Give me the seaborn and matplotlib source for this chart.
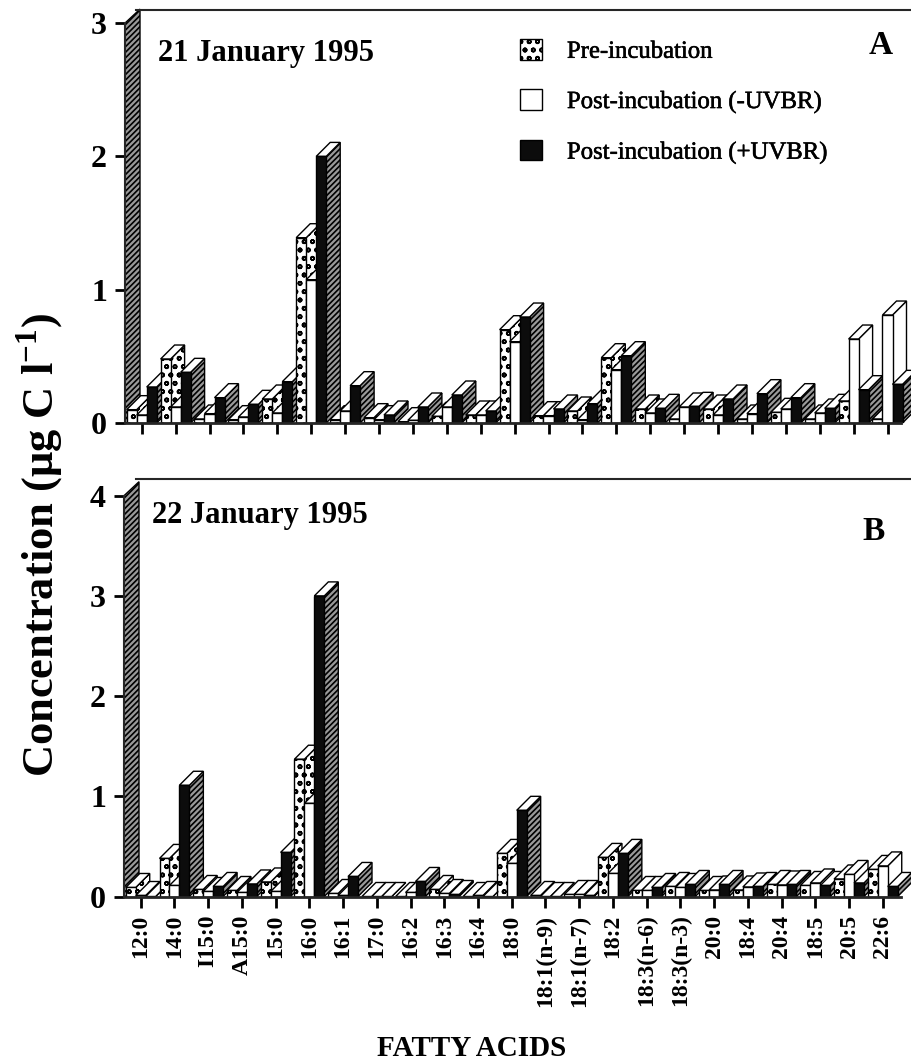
import numpy as np
import pandas as pd
import matplotlib
matplotlib.use("Agg")
import matplotlib.pyplot as plt
import matplotlib.patheffects as pe
from matplotlib.patches import Patch, Polygon
import seaborn as sns

acids = ["12:0", "14:0", "I15:0", "A15:0", "15:0", "16:0", "16:1", "17:0", "16:2", "16:3", "16:4", "18:0",
         "18:1(n-9)", "18:1(n-7)", "18:2", "18:3(n-6)", "18:3(n-3)", "20:0", "18:4", "20:4", "18:5", "20:5", "22:6"]
series = ["Pre-incubation", "Post-incubation (-UVBR)", "Post-incubation (+UVBR)"]

a_pre = [.10, .48, .03, .025, .18, 1.39, .025, .04, .01, .05, .06, .70, .055, .09, .49, .105, .03, .105, .03, .08, .03, .165, .03]
a_minus = [.06, .12, .07, .045, .075, 1.075, .09, .025, .02, .12, .06, .61, .055, .025, .40, .075, .12, .06, .07, .105, .075, .63, .81]
a_plus = [.27, .38, .19, .14, .31, 2.0, .28, .06, .12, .21, .09, .795, .105, .145, .505, .11, .125, .18, .22, .19, .11, .25, .29]

b_pre = [.09, .38, .07, .06, .145, 1.37, .03, 0, 0, .07, 0, .43, .01, .02, .39, .06, .10, .06, .065, .12, .11, .175, .27]
b_minus = [.01, .11, .05, .04, .05, .93, .01, 0, .04, .03, .01, .33, 0, .02, .23, .06, .09, .065, .095, .115, .135, .22, .305]
b_plus = [0, 1.11, .10, .125, .44, 3.0, .20, 0, .15, .02, 0, .86, 0, .01, .43, .09, .12, .12, .10, .12, .11, .135, .10]

W, H = 912, 1064
DEPTH = 14.0
sns.set_theme(style="ticks")
plt.rcParams["font.family"] = ["Liberation Serif", "DejaVu Serif"]
plt.rcParams["mathtext.fontset"] = "custom"
plt.rcParams["mathtext.bf"] = "Liberation Serif:bold"
plt.rcParams["mathtext.rm"] = "Liberation Serif:bold"
plt.rcParams["hatch.linewidth"] = 1.2
plt.rcParams["axes.linewidth"] = 2

fig = plt.figure(figsize=(W / 100, H / 100), dpi=100, facecolor="white")


def frame(a, b, c):
    return pd.DataFrame({"acid": acids * 3,
                         "series": np.repeat(series, len(acids)),
                         "value": list(a) + list(b) + list(c)})


def panel(a, b, c, top, bottom, y_upper, ticks, x0, xstep, left):
    ax = fig.add_axes([left / W, 1 - bottom / H, (W - left) / W, (bottom - top) / H])
    sns.barplot(data=frame(a, b, c), x="acid", y="value", hue="series", order=acids, hue_order=series,
                palette=["white", "white", "#0c0c0c"], saturation=1, width=0.885, legend=False,
                edgecolor="black", linewidth=1, ax=ax, errorbar=None)
    ax.set_xlim((left - x0) / xstep, (W - x0) / xstep)
    ax.set_ylim(0, y_upper)
    dx = DEPTH / xstep
    dy = DEPTH * y_upper / (bottom - top)
    styles = [dict(hatch="oo", fc="white"), dict(fc="white"), dict(hatch="//////", fc="#999999")]
    for j, cont in enumerate(ax.containers):
        for i, r in enumerate(cont.patches):
            z = 3 + i + j / 4
            x, w, h = r.get_x(), r.get_width(), r.get_height()
            if j == 0:
                r.set_hatch("oo")
            r.set_zorder(z + 0.02)
            side = [(x + w, 0), (x + w + dx, dy), (x + w + dx, h + dy), (x + w, h)]
            tp = [(x, h), (x + dx, h + dy), (x + w + dx, h + dy), (x + w, h)]
            ax.add_patch(Polygon(side, closed=True, ec="black", lw=1, zorder=z, clip_on=False, **styles[j]))
            ax.add_patch(Polygon(tp, closed=True, fc="white", ec="black", lw=1, zorder=z + 0.01, clip_on=False))
    xl = ax.get_xlim()[0]
    wall = [(xl, 0), (xl, ticks[-1]), (xl + 15 / xstep, ticks[-1] + dy), (xl + 15 / xstep, 0)]
    ax.add_patch(Polygon(wall, closed=True, fc="#999999", ec="black", lw=1, hatch="//////", zorder=2, clip_on=False))
    ax.spines["right"].set_visible(False)
    ax.spines["top"].set_bounds((136 - x0) / xstep, (W - x0) / xstep)
    ax.spines["top"].set_linewidth(1.5)
    ax.spines["bottom"].set_bounds(xl, (901 - x0) / xstep)
    ax.spines["bottom"].set_zorder(40)
    ax.spines["left"].set_bounds(0, ticks[-1])
    ax.spines["left"].set_linewidth(1.5)
    ax.set_yticks(ticks)
    ax.set_yticklabels([str(t) for t in ticks], fontsize=23, fontweight="bold", color="black")
    ax.set_xticks(range(len(acids)))
    ax.tick_params(axis="y", length=7, width=2, pad=6, color="black")
    ax.tick_params(axis="x", length=8, width=2, pad=5, color="black")
    ax.set_xlabel("")
    ax.set_ylabel("")
    ax.patch.set_alpha(0)
    return ax


ax_a = panel(a_pre, a_minus, a_plus, 10, 423, 413 / 133.3, [0, 1, 2, 3], 141.7, 33.9, 125)
ax_b = panel(b_pre, b_minus, b_plus, 479, 896.5, 417.5 / 100.2, [0, 1, 2, 3, 4], 140.7, 33.73, 124)
ax_a.set_xticklabels([])
ax_b.set_xticklabels(acids, rotation=90, fontsize=17, fontweight="bold", color="black")


def txt(x, y, s, **kw):
    kw.setdefault("color", "black")
    return fig.text(x / W, 1 - y / H, s, **kw)


txt(158, 53, "21 January 1995", fontsize=22, fontweight="bold", va="center", ha="left")
txt(152, 515, "22 January 1995", fontsize=22, fontweight="bold", va="center", ha="left")
txt(881, 45, "A", fontsize=24, fontweight="bold", va="center", ha="center")
txt(874, 531, "B", fontsize=24, fontweight="bold", va="center", ha="center")
txt(40, 545, r"Concentration ($\mathbf{\mu}$g C l$^{\mathbf{-1}}$)", fontsize=32, fontweight="bold",
    rotation=90, va="center", ha="center")
txt(472, 1048, "FATTY ACIDS", fontsize=21, fontweight="bold", va="center", ha="center")

handles = [Patch(fc="white", ec="black", hatch="oo", lw=1),
           Patch(fc="white", ec="black", lw=1),
           Patch(fc="#0c0c0c", ec="black", lw=1)]
leg = ax_a.legend(handles, series, loc="upper left", bbox_to_anchor=((520 - 125) / (W - 125), 1 - 29 / 413),
                  frameon=False, fontsize=17.8, labelcolor="black", handlelength=0.9, handleheight=0.9,
                  handletextpad=1.0, labelspacing=1.07, borderpad=0, borderaxespad=0)
leg.set_zorder(60)
for t in leg.get_texts():
    t.set_path_effects([pe.withStroke(linewidth=0.4, foreground="black")])

fig.savefig("out.png", dpi=100, facecolor="white")
